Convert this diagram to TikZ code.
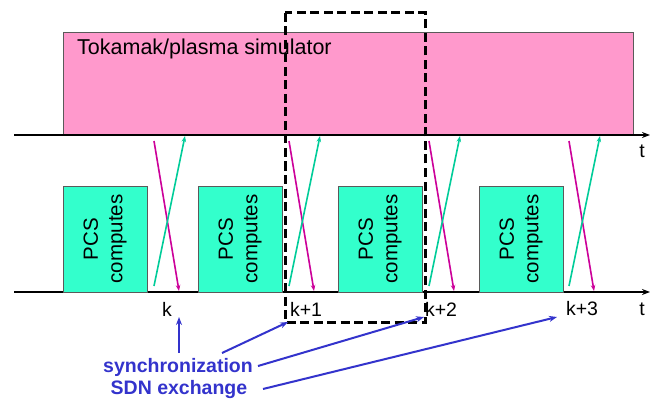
\documentclass[tikz,border=0pt]{standalone}
\usepackage{fontspec}
\setmainfont{Liberation Sans}
\usetikzlibrary{arrows.meta}
\definecolor{simpink}{RGB}{255,153,204}
\definecolor{pcsgreen}{RGB}{51,255,204}
\definecolor{downmag}{RGB}{204,0,153}
\definecolor{upgreen}{RGB}{0,204,153}
\definecolor{syncblue}{RGB}{51,51,204}
\definecolor{edgegrey}{RGB}{90,90,90}
\begin{document}
\begin{tikzpicture}[x=1pt,y=-1pt,
  simbox/.style={draw=edgegrey, line width=0.8pt, fill=simpink, inner sep=0pt},
  pcsbox/.style={draw=edgegrey, line width=0.8pt, fill=pcsgreen, rotate=90,
     minimum width=106pt, minimum height=84pt, inner sep=0pt, align=center,
     font=\fontsize{20.5}{24.5}\selectfont},
  axis/.style={line width=1.8pt, -{Stealth[length=8pt,width=6pt]}},
  lbl/.style={font=\fontsize{19.5}{22}\selectfont, inner sep=0pt},
  downarr/.style={draw=downmag, line width=1.6pt, -{Stealth[length=6pt,width=4.5pt]}},
  uparr/.style={draw=upgreen, line width=1.6pt, -{Stealth[length=6pt,width=4.5pt]}},
  bluearr/.style={draw=syncblue, line width=2pt, -{Stealth[length=8pt,width=6pt]}},
  bluetxt/.style={text=syncblue, font=\fontsize{19.5}{22}\selectfont\bfseries, inner sep=0pt},
  frame/.style={draw=black, line width=3pt, dash pattern=on 9pt off 4.5pt}
]
\useasboundingbox (0,0) rectangle (656,401);
% simulator
\node[simbox, minimum width=570pt, minimum height=103pt, anchor=north west] (sim) at (63,32) {};
\node[lbl, anchor=west, font=\fontsize{21.5}{24}\selectfont] (simlabel) at (77,49) {Tokamak/plasma simulator};
% axes
\coordinate (ta0) at (14,135); \coordinate (ta1) at (650,135);
\coordinate (tb0) at (14,292); \coordinate (tb1) at (650,292);
\draw[axis] (ta0) -- (ta1);
\draw[axis] (tb0) -- (tb1);
\node[lbl] (tlabA) at (642,151) {t};
\node[lbl] (tlabB) at (642,309) {t};
% PCS boxes
\node[pcsbox] (p1) at (105,239) {PCS\\computes};
\node[pcsbox] (p2) at (240,239) {PCS\\computes};
\node[pcsbox] (p3) at (380,239) {PCS\\computes};
\node[pcsbox] (p4) at (521,239) {PCS\\computes};
% exchange arrows
\foreach \i/\x in {1/154,2/289,3/429,4/569}{
  \coordinate (ds\i) at (\x,141);
  \coordinate (de\i) at ({\x+25},291);
  \coordinate (us\i) at (\x,286);
  \coordinate (ue\i) at ({\x+31},136);
  \draw[downarr] (ds\i) -- (de\i);
  \draw[uparr] (us\i) -- (ue\i);
}
% step labels
\node[lbl] (k0) at (167,309) {k};
\node[lbl] (k1) at (306,309) {k+1};
\node[lbl] (k2) at (441,309) {k+2};
\node[lbl] (k3) at (582,309) {k+3};
% dashed frame
\draw[frame] (285,13) rectangle (425,322);
% blue annotations
\node[bluetxt] (sync) at (178,367) {synchronization};
\node[bluetxt] (sdn) at (179,389) {SDN exchange};
\coordinate (a0s) at (179,353); \coordinate (a0e) at (179,317);
\coordinate (a1s) at (222,353); \coordinate (a1e) at (288,322);
\coordinate (a2s) at (258,366); \coordinate (a2e) at (424,317);
\coordinate (a3s) at (263,389); \coordinate (a3e) at (557,317);
\draw[bluearr] (a0s) -- (a0e);
\draw[bluearr] (a1s) -- (a1e);
\draw[bluearr] (a2s) -- (a2e);
\draw[bluearr] (a3s) -- (a3e);
\end{tikzpicture}
\end{document}
